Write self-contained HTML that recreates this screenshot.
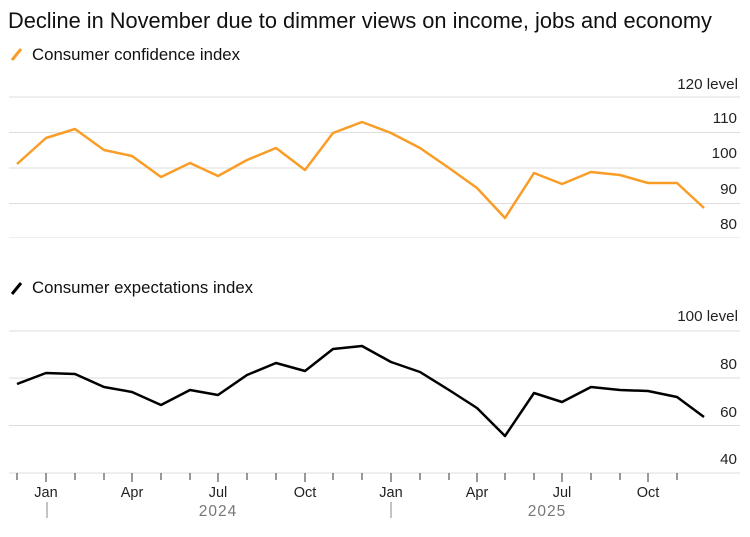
<!DOCTYPE html>
<html><head><meta charset="utf-8"><style>
body{margin:0;background:#fff;}
svg{display:block;font-family:"Liberation Sans",sans-serif;}
</style></head><body>
<svg width="750" height="537" viewBox="0 0 750 537">
<text x="8" y="28" font-size="21.8" fill="#111">Decline in November due to dimmer views on income, jobs and economy</text>
<line x1="12" y1="60" x2="21" y2="49" stroke="#f99d27" stroke-width="3"/>
<text x="32" y="60" font-size="16.8" fill="#111">Consumer confidence index</text>
<line x1="12" y1="294" x2="21" y2="283" stroke="#000" stroke-width="3"/>
<text x="32" y="293" font-size="16.8" fill="#111">Consumer expectations index</text>
<g stroke="#ddd" stroke-width="1">
<line x1="9" y1="97" x2="740" y2="97"/><line x1="9" y1="132.5" x2="740" y2="132.5"/><line x1="9" y1="168" x2="740" y2="168"/><line x1="9" y1="203.5" x2="740" y2="203.5"/><line x1="9" y1="237.5" x2="740" y2="237.5" stroke="#eee"/>
<line x1="9" y1="331" x2="740" y2="331"/><line x1="9" y1="378" x2="740" y2="378"/><line x1="9" y1="425.5" x2="740" y2="425.5"/><line x1="9" y1="473" x2="740" y2="473"/>
</g>
<g font-size="15.2" fill="#222" text-anchor="end">
<text x="738" y="89">120 level</text><text x="737" y="123">110</text><text x="737" y="158">100</text><text x="737" y="194">90</text><text x="737" y="229">80</text>
<text x="738" y="321">100 level</text><text x="737" y="369">80</text><text x="737" y="417">60</text><text x="737" y="464">40</text>
</g>
<polyline fill="none" stroke="#f99d27" stroke-width="2.5" stroke-linejoin="round" points="17,164 46,138 75,129 104,150 132,156 161,177 190,163 218,176 247,160 276,148 305,170 333,133 362,122 391,133 420,148 449,168 477,188 505,218 534,173 562,184 591,172 620,175 648,183 677,183 704,208"/>
<polyline fill="none" stroke="#000" stroke-width="2.5" stroke-linejoin="round" points="17,384 46,373 75,374 104,387 132,392 161,405 190,390 218,395 247,375 276,363 305,371 333,349 362,346 391,362 420,372 449,390 477,408 505,436 534,393 562,402 591,387 620,390 648,391 677,397 704,417"/>
<g stroke="#333" stroke-width="1">
<line x1="17" y1="473" x2="17" y2="480"/><line x1="46" y1="473" x2="46" y2="482"/><line x1="75" y1="473" x2="75" y2="480"/><line x1="104" y1="473" x2="104" y2="480"/><line x1="132" y1="473" x2="132" y2="482"/><line x1="161" y1="473" x2="161" y2="480"/><line x1="190" y1="473" x2="190" y2="480"/><line x1="218" y1="473" x2="218" y2="482"/><line x1="247" y1="473" x2="247" y2="480"/><line x1="276" y1="473" x2="276" y2="480"/><line x1="305" y1="473" x2="305" y2="482"/><line x1="333" y1="473" x2="333" y2="480"/><line x1="362" y1="473" x2="362" y2="480"/><line x1="391" y1="473" x2="391" y2="482"/><line x1="420" y1="473" x2="420" y2="480"/><line x1="449" y1="473" x2="449" y2="480"/><line x1="477" y1="473" x2="477" y2="482"/><line x1="505" y1="473" x2="505" y2="480"/><line x1="534" y1="473" x2="534" y2="480"/><line x1="562" y1="473" x2="562" y2="482"/><line x1="591" y1="473" x2="591" y2="480"/><line x1="620" y1="473" x2="620" y2="480"/><line x1="648" y1="473" x2="648" y2="482"/><line x1="677" y1="473" x2="677" y2="480"/>
<line x1="47" y1="502" x2="47" y2="518" stroke="#888"/><line x1="391" y1="502" x2="391" y2="518" stroke="#888"/>
</g>
<g font-size="14.5" fill="#222" text-anchor="middle">
<text x="46" y="497">Jan</text><text x="132" y="497">Apr</text><text x="218" y="497">Jul</text><text x="305" y="497">Oct</text><text x="391" y="497">Jan</text><text x="477" y="497">Apr</text><text x="562" y="497">Jul</text><text x="648" y="497">Oct</text>
</g>
<g font-size="15.5" fill="#777" text-anchor="middle" letter-spacing="1">
<text x="218" y="516">2024</text><text x="547" y="516">2025</text>
</g>
</svg>
</body></html>
